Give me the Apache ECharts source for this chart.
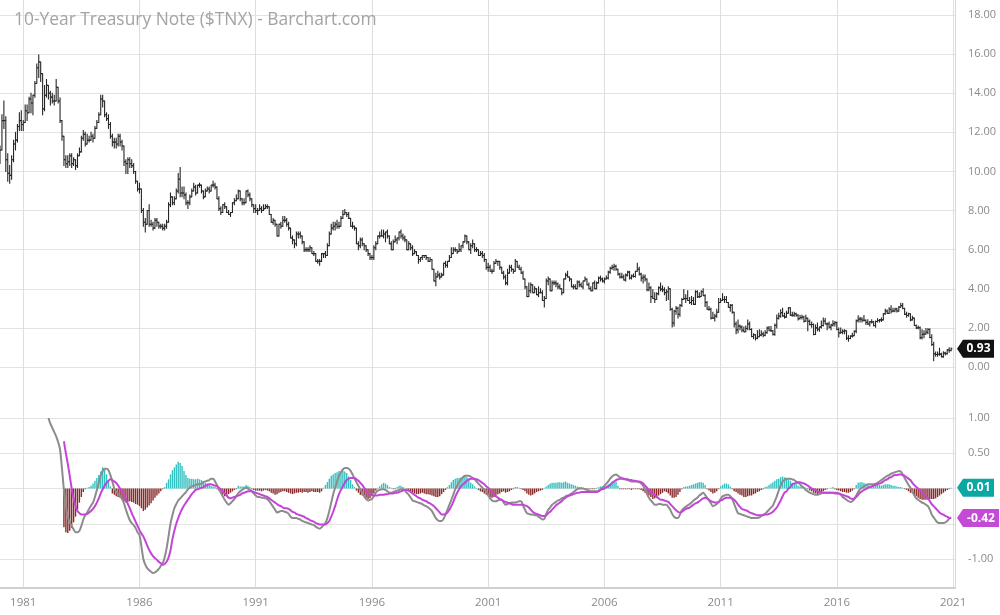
<!DOCTYPE html>
<html><head><meta charset="utf-8">
<script src="https://cdn.jsdelivr.net/npm/echarts@6/dist/echarts.min.js"></script>
<style>html,body{margin:0;padding:0;background:#fff}#c{width:1000px;height:615px}</style>
</head><body><div id="c"></div>
<script>
const chartTitle = '10-Year Treasury Note ($TNX) - Barchart.com';
const firstYear = 1980;
const yearTicks = ['1981','1986','1991','1996','2001','2006','2011','2016','2021'];
const priceOpen0 = 10.8;

// monthly lows, Jan 1980 .. Dec 2020
const priceLow = [
10.4,11.1,12.2,10.0,9.5,9.4,9.6,10.5,11.1,11.5,12.1,12.1,
12.1,12.5,12.6,13.0,13.0,12.9,13.8,14.5,14.8,14.6,12.9,13.1,
13.8,13.7,13.4,13.5,13.4,13.6,13.5,12.5,11.6,10.3,10.2,10.2,
10.3,10.2,10.3,10.1,10.2,10.8,11.0,11.6,11.3,11.4,11.5,11.6,
11.5,11.7,12.2,12.5,12.9,13.3,12.8,12.6,12.2,11.7,11.3,11.2,
11.2,11.3,11.3,11.1,10.3,9.9,9.9,10.2,10.2,9.9,9.4,9.0,
8.9,7.9,7.2,6.9,7.3,7.2,7.2,7.0,7.1,7.2,7.1,7.1,
7.0,7.0,7.1,7.4,8.2,8.3,8.3,8.6,8.9,8.7,8.7,8.6,
8.3,8.1,8.3,8.7,9.0,8.8,8.9,9.2,8.9,8.6,8.7,9.0,
8.9,9.0,9.2,9.1,8.6,8.0,7.8,7.9,8.1,7.9,7.8,7.7,
7.9,8.3,8.5,8.6,8.5,8.3,8.3,8.4,8.7,8.5,8.2,7.9,
7.9,7.8,8.0,7.9,8.0,8.1,8.1,7.8,7.4,7.3,7.2,6.7,
6.7,7.1,7.2,7.4,7.2,7.0,6.6,6.3,6.1,6.2,6.6,6.6,
6.3,5.9,5.9,5.9,5.9,5.8,5.7,5.4,5.3,5.2,5.4,5.6,
5.6,5.7,6.2,6.8,7.0,7.0,7.1,7.1,7.2,7.6,7.8,7.7,
7.6,7.2,7.1,7.0,6.3,6.0,6.1,6.2,6.0,5.9,5.7,5.5,
5.5,5.5,6.0,6.3,6.6,6.7,6.6,6.4,6.6,6.3,6.0,6.0,
6.4,6.3,6.5,6.6,6.5,6.4,6.0,6.0,6.0,5.7,5.8,5.7,
5.3,5.4,5.5,5.6,5.5,5.4,5.4,5.0,4.4,4.15,4.6,4.5,
4.6,4.7,5.1,5.1,5.4,5.6,5.8,5.9,5.8,5.9,5.9,6.1,
6.4,6.3,6.0,5.8,6.1,5.9,5.9,5.7,5.7,5.6,5.4,5.0,
4.9,4.9,4.8,4.9,5.3,5.2,5.0,4.8,4.5,4.2,4.2,4.8,
4.9,4.8,4.9,5.1,5.0,4.8,4.5,4.0,3.6,3.6,3.8,3.8,
3.8,3.7,3.6,3.8,3.4,3.07,3.5,4.2,3.9,3.9,4.2,4.1,
4.0,4.0,3.7,3.8,4.5,4.6,4.4,4.1,4.0,4.0,4.0,4.1,
4.1,4.0,4.4,4.2,4.0,3.9,3.9,4.0,4.0,4.3,4.4,4.35,
4.3,4.5,4.5,4.8,5.0,4.95,4.95,4.7,4.55,4.55,4.45,4.4,
4.65,4.5,4.5,4.6,4.6,4.9,4.7,4.4,4.3,4.4,3.9,3.9,
3.3,3.5,3.3,3.45,3.7,3.9,3.85,3.7,3.4,3.45,2.9,2.05,
2.1,2.7,2.5,2.6,3.1,3.45,3.3,3.4,3.25,3.2,3.2,3.2,
3.55,3.55,3.6,3.65,3.1,2.95,2.9,2.45,2.5,2.35,2.55,2.8,
3.3,3.4,3.3,3.3,3.05,2.85,2.75,2.05,1.7,1.75,1.9,1.8,
1.8,1.8,1.9,1.9,1.55,1.45,1.38,1.45,1.55,1.6,1.55,1.6,
1.72,1.85,1.82,1.63,1.62,2.0,2.45,2.55,2.6,2.5,2.55,2.75,
2.63,2.6,2.6,2.6,2.4,2.45,2.45,2.3,2.33,1.86,2.15,2.03,
1.65,1.66,1.85,1.83,2.0,2.1,2.2,1.9,2.0,1.9,2.1,2.1,
1.9,1.53,1.72,1.7,1.7,1.4,1.32,1.45,1.53,1.6,1.75,2.3,
2.3,2.3,2.35,2.17,2.17,2.1,2.25,2.1,2.03,2.3,2.3,2.33,
2.4,2.7,2.74,2.73,2.76,2.82,2.82,2.81,2.85,3.05,2.98,2.68,
2.55,2.6,2.37,2.4,2.12,1.97,1.95,1.45,1.43,1.5,1.68,1.7,
1.5,1.1,0.32,0.55,0.55,0.6,0.51,0.5,0.62,0.66,0.76,0.83
];
// monthly highs
const priceHigh = [
11.3,12.9,13.6,12.8,10.9,10.3,10.8,11.6,12.0,12.4,13.0,13.1,
12.6,13.4,13.4,13.8,14.0,13.9,14.6,15.5,15.95,15.6,15.0,14.4,
14.7,14.4,14.1,14.0,13.9,14.7,14.3,13.75,12.6,11.8,10.8,10.8,
10.9,10.9,10.7,10.6,10.9,11.2,11.8,12.1,12.0,11.9,11.8,12.0,
11.9,12.3,12.6,13.0,13.9,13.9,13.6,13.0,12.9,12.5,11.9,11.7,
11.7,11.9,11.9,11.6,11.3,10.6,10.7,10.7,10.6,10.4,10.0,9.5,
9.4,9.1,8.1,7.6,8.0,8.3,7.5,7.4,7.6,7.6,7.4,7.3,
7.3,7.3,7.5,8.4,8.9,8.7,8.7,9.1,9.9,10.2,9.2,9.2,
8.9,8.5,8.8,9.1,9.4,9.3,9.3,9.4,9.3,9.0,9.1,9.2,
9.2,9.3,9.5,9.4,9.2,8.7,8.2,8.3,8.4,8.2,8.0,7.9,
8.4,8.6,8.8,9.05,9.0,8.6,8.6,9.0,9.05,8.9,8.6,8.3,
8.3,8.1,8.3,8.2,8.3,8.3,8.3,8.2,7.8,7.6,7.5,7.3,
7.3,7.4,7.7,7.7,7.6,7.4,7.1,6.7,6.5,6.9,6.9,6.9,
6.7,6.4,6.1,6.1,6.2,6.1,5.9,5.8,5.5,5.5,5.8,5.8,
5.9,6.3,6.9,7.3,7.4,7.4,7.5,7.4,7.7,8.0,8.05,7.9,
7.9,7.6,7.4,7.2,7.1,6.4,6.6,6.6,6.3,6.2,6.0,5.8,
5.7,6.2,6.4,6.7,6.9,7.0,7.0,6.9,7.0,6.7,6.4,6.5,
6.7,6.6,6.9,7.0,6.8,6.7,6.5,6.4,6.3,6.2,6.0,5.9,
5.7,5.6,5.7,5.7,5.7,5.6,5.6,5.5,5.0,4.8,4.9,4.8,
4.8,5.3,5.4,5.4,5.7,6.1,6.1,6.1,6.0,6.3,6.2,6.4,
6.75,6.7,6.4,6.3,6.5,6.3,6.1,6.0,5.9,5.9,5.8,5.5,
5.3,5.2,5.0,5.4,5.5,5.4,5.4,5.1,4.9,4.7,5.0,5.2,
5.2,5.0,5.5,5.4,5.2,5.1,4.9,4.5,4.1,4.3,4.3,4.2,
4.1,4.0,4.1,4.0,3.9,3.6,4.5,4.6,4.5,4.4,4.4,4.4,
4.3,4.2,4.0,4.5,4.8,4.9,4.6,4.5,4.2,4.2,4.4,4.4,
4.3,4.4,4.6,4.5,4.3,4.1,4.3,4.4,4.35,4.6,4.65,4.55,
4.55,4.65,4.9,5.1,5.2,5.25,5.2,5.0,4.8,4.8,4.7,4.75,
4.9,4.9,4.7,4.75,4.9,5.3,5.1,4.8,4.7,4.7,4.5,4.3,
4.1,3.95,3.8,3.8,4.1,4.3,4.15,4.05,3.95,4.1,4.0,3.0,
2.9,3.1,3.05,3.2,3.5,3.95,3.7,3.9,3.55,3.6,3.55,3.9,
3.9,3.8,3.9,4.0,3.7,3.35,3.1,3.0,2.8,2.7,2.95,3.5,
3.5,3.75,3.6,3.6,3.3,3.2,3.2,2.8,2.3,2.4,2.15,2.1,
2.05,2.1,2.4,2.3,1.95,1.7,1.65,1.85,1.9,1.85,1.78,1.85,
2.05,2.07,2.07,1.87,2.2,2.66,2.75,2.93,3.0,2.75,2.85,3.03,
3.03,2.8,2.8,2.75,2.67,2.65,2.65,2.6,2.65,2.5,2.4,2.3,
2.2,2.15,2.25,2.05,2.35,2.5,2.48,2.25,2.3,2.18,2.37,2.33,
2.3,2.0,2.0,1.9,1.9,1.85,1.6,1.6,1.73,1.85,2.4,2.62,
2.55,2.52,2.63,2.4,2.42,2.33,2.42,2.33,2.35,2.47,2.43,2.5,
2.73,2.95,2.91,3.03,3.13,3.0,3.0,3.0,3.1,3.26,3.25,3.0,
2.8,2.75,2.72,2.6,2.5,2.15,2.1,2.05,1.9,1.85,1.97,1.95,
1.95,1.65,1.27,0.77,0.77,0.96,0.7,0.78,0.75,0.89,0.98,0.97
];
// monthly closes
const priceClose = [
11.1,12.6,12.6,10.6,9.9,9.8,10.6,11.4,11.6,12.3,12.6,12.4,
12.5,13.1,13.0,13.7,13.5,13.9,14.5,15.3,15.6,15.0,13.2,13.9,
14.4,14.0,13.8,13.6,13.6,14.3,13.6,12.6,11.8,10.6,10.4,10.5,
10.8,10.4,10.6,10.3,10.8,11.0,11.7,11.9,11.4,11.6,11.6,11.8,
11.7,12.2,12.5,12.9,13.7,13.6,12.9,12.7,12.4,11.8,11.5,11.5,
11.4,11.8,11.5,11.3,10.5,10.4,10.6,10.4,10.3,10.0,9.5,9.1,
9.1,8.0,7.4,7.3,8.0,7.3,7.3,7.1,7.5,7.4,7.2,7.2,
7.1,7.2,7.4,8.3,8.7,8.4,8.6,9.0,9.6,8.9,8.9,8.8,
8.4,8.4,8.7,9.0,9.2,8.9,9.3,9.3,9.0,8.7,9.0,9.1,
9.0,9.3,9.3,9.2,8.6,8.1,7.9,8.3,8.2,7.9,7.8,7.9,
8.4,8.5,8.6,9.0,8.6,8.4,8.4,9.0,8.8,8.6,8.3,8.1,
8.0,8.0,8.1,8.0,8.1,8.2,8.2,7.8,7.4,7.5,7.3,6.7,
7.3,7.2,7.5,7.5,7.3,7.1,6.6,6.5,6.3,6.8,6.8,6.7,
6.4,6.0,6.0,6.0,6.1,5.8,5.8,5.4,5.4,5.4,5.8,5.8,
5.7,6.2,6.8,7.1,7.2,7.3,7.2,7.2,7.6,7.8,7.9,7.8,
7.6,7.2,7.2,7.1,6.3,6.2,6.5,6.3,6.2,6.0,5.8,5.6,
5.6,6.1,6.3,6.7,6.7,6.7,6.8,6.9,6.7,6.3,6.0,6.4,
6.5,6.6,6.9,6.7,6.6,6.5,6.0,6.3,6.1,5.8,5.9,5.7,
5.5,5.6,5.7,5.7,5.6,5.4,5.5,5.0,4.4,4.6,4.7,4.6,
4.7,5.3,5.2,5.4,5.6,5.8,6.0,6.0,5.9,6.0,6.2,6.4,
6.7,6.4,6.0,6.2,6.3,6.0,6.0,5.7,5.8,5.7,5.5,5.1,
5.1,4.9,4.9,5.3,5.4,5.4,5.1,4.8,4.6,4.3,4.8,5.1,
5.0,4.9,5.4,5.1,5.0,4.8,4.5,4.1,3.6,3.9,4.2,3.8,
4.0,3.7,3.8,3.8,3.4,3.5,4.4,4.5,3.9,4.3,4.3,4.25,
4.1,4.0,3.8,4.5,4.7,4.6,4.5,4.1,4.1,4.0,4.35,4.2,
4.1,4.4,4.5,4.2,4.0,3.9,4.3,4.0,4.3,4.55,4.5,4.4,
4.5,4.55,4.85,5.05,5.1,5.15,5.0,4.75,4.6,4.6,4.45,4.7,
4.85,4.55,4.65,4.63,4.9,5.0,4.75,4.55,4.6,4.5,3.95,4.05,
3.6,3.5,3.45,3.75,4.05,3.98,3.95,3.8,3.85,4.0,2.95,2.25,
2.85,3.0,2.7,3.15,3.45,3.5,3.5,3.4,3.3,3.4,3.2,3.85,
3.6,3.6,3.85,3.65,3.3,2.95,2.95,2.5,2.5,2.6,2.8,3.3,
3.4,3.45,3.45,3.3,3.05,3.15,2.8,2.2,1.9,2.1,2.05,1.88,
1.8,1.97,2.2,1.92,1.56,1.65,1.47,1.55,1.63,1.69,1.62,1.76,
1.99,1.88,1.85,1.67,2.13,2.49,2.6,2.78,2.61,2.55,2.75,3.03,
2.65,2.65,2.72,2.65,2.47,2.53,2.56,2.34,2.49,2.34,2.17,2.17,
1.66,2.0,1.93,2.04,2.12,2.35,2.2,2.2,2.04,2.14,2.21,2.27,
1.92,1.74,1.77,1.83,1.85,1.47,1.46,1.58,1.6,1.83,2.37,2.45,
2.45,2.39,2.39,2.28,2.2,2.31,2.3,2.12,2.33,2.38,2.41,2.41,
2.72,2.86,2.74,2.95,2.86,2.86,2.96,2.86,3.06,3.14,2.99,2.69,
2.63,2.72,2.41,2.5,2.12,2.0,2.01,1.5,1.67,1.69,1.78,1.92,
1.51,1.15,0.67,0.64,0.65,0.66,0.53,0.71,0.68,0.88,0.84,0.93
];
// MACD line (grey)
const macdLine = [
null,null,null,null,null,null,null,null,null,null,null,null,
null,null,null,null,null,null,null,null,null,null,null,null,
null,1.00,0.92,0.86,0.80,0.74,0.66,0.55,0.28,-0.02,-0.25,-0.40,
-0.48,-0.53,-0.58,-0.62,-0.62,-0.60,-0.53,-0.44,-0.38,-0.34,-0.29,-0.24,
-0.20,-0.12,-0.02,0.08,0.19,0.25,0.28,0.28,0.26,0.19,0.10,0.00,
-0.05,-0.08,-0.11,-0.15,-0.21,-0.30,-0.38,-0.45,-0.49,-0.52,-0.56,-0.62,
-0.66,-0.82,-1.00,-1.08,-1.13,-1.16,-1.18,-1.20,-1.19,-1.17,-1.14,-1.10,
-1.06,-0.98,-0.85,-0.68,-0.50,-0.38,-0.28,-0.22,-0.17,-0.14,-0.11,-0.08,
-0.05,-0.01,0.01,0.03,0.04,0.05,0.06,0.06,0.07,0.09,0.10,0.11,
0.12,0.14,0.14,0.10,0.05,-0.01,-0.06,-0.11,-0.16,-0.20,-0.23,-0.21,
-0.18,-0.15,-0.11,-0.07,-0.04,-0.02,0.00,0.01,0.00,-0.02,-0.04,-0.07,
-0.10,-0.12,-0.12,-0.13,-0.13,-0.14,-0.15,-0.18,-0.22,-0.26,-0.30,-0.34,
-0.33,-0.32,-0.32,-0.33,-0.34,-0.36,-0.40,-0.42,-0.42,-0.42,-0.43,-0.44,
-0.46,-0.47,-0.48,-0.49,-0.50,-0.51,-0.52,-0.54,-0.56,-0.57,-0.55,-0.52,
-0.49,-0.42,-0.32,-0.20,-0.08,0.01,0.10,0.18,0.23,0.27,0.29,0.29,
0.28,0.25,0.20,0.14,0.09,0.04,-0.01,-0.06,-0.11,-0.15,-0.17,-0.16,
-0.15,-0.11,-0.06,-0.03,-0.02,-0.01,-0.01,-0.02,-0.04,-0.06,-0.06,-0.05,
-0.04,-0.03,-0.02,-0.01,-0.01,-0.03,-0.06,-0.09,-0.13,-0.17,-0.18,-0.19,
-0.20,-0.21,-0.22,-0.24,-0.25,-0.27,-0.29,-0.32,-0.37,-0.42,-0.45,-0.46,
-0.46,-0.43,-0.37,-0.30,-0.23,-0.16,-0.09,-0.01,0.04,0.09,0.13,0.16,
0.18,0.18,0.18,0.17,0.15,0.13,0.10,0.07,0.04,0.01,-0.02,-0.04,
-0.09,-0.14,-0.17,-0.18,-0.18,-0.17,-0.16,-0.16,-0.20,-0.23,-0.22,-0.21,
-0.20,-0.20,-0.20,-0.19,-0.18,-0.18,-0.24,-0.30,-0.35,-0.36,-0.37,-0.37,
-0.38,-0.38,-0.40,-0.42,-0.44,-0.43,-0.36,-0.30,-0.27,-0.23,-0.21,-0.19,
-0.17,-0.16,-0.14,-0.13,-0.11,-0.10,-0.09,-0.07,-0.05,-0.03,-0.01,0.00,
0.00,0.00,-0.01,-0.02,-0.03,-0.04,-0.04,-0.04,-0.04,-0.03,-0.01,0.01,
0.04,0.07,0.10,0.14,0.17,0.19,0.20,0.18,0.16,0.15,0.14,0.13,
0.12,0.11,0.10,0.10,0.10,0.10,0.09,0.07,0.04,-0.02,-0.08,-0.13,
-0.17,-0.20,-0.23,-0.23,-0.22,-0.22,-0.23,-0.23,-0.23,-0.26,-0.30,-0.36,
-0.40,-0.42,-0.42,-0.37,-0.31,-0.28,-0.26,-0.24,-0.22,-0.20,-0.17,-0.15,
-0.13,-0.10,-0.08,-0.06,-0.09,-0.13,-0.17,-0.21,-0.25,-0.24,-0.22,-0.19,
-0.15,-0.11,-0.10,-0.09,-0.09,-0.11,-0.15,-0.22,-0.29,-0.35,-0.36,-0.37,
-0.38,-0.39,-0.40,-0.41,-0.42,-0.42,-0.42,-0.42,-0.41,-0.39,-0.37,-0.36,
-0.33,-0.30,-0.27,-0.24,-0.18,-0.11,-0.03,0.04,0.10,0.12,0.14,0.14,
0.14,0.13,0.12,0.10,0.08,0.06,0.03,0.01,-0.02,-0.04,-0.06,-0.07,
-0.08,-0.09,-0.09,-0.08,-0.07,-0.06,-0.06,-0.06,-0.06,-0.06,-0.06,-0.06,
-0.06,-0.07,-0.09,-0.12,-0.14,-0.16,-0.18,-0.19,-0.18,-0.15,-0.10,-0.05,
-0.01,0.01,0.03,0.05,0.06,0.06,0.06,0.06,0.07,0.08,0.10,0.12,
0.14,0.16,0.18,0.19,0.21,0.22,0.23,0.24,0.25,0.24,0.20,0.15,
0.10,0.05,0.01,-0.04,-0.10,-0.14,-0.16,-0.18,-0.20,-0.21,-0.23,-0.25,
-0.30,-0.37,-0.41,-0.45,-0.48,-0.49,-0.49,-0.49,-0.48,-0.46,-0.43,-0.41
];
// signal line (magenta)
const signalLine = [
null,null,null,null,null,null,null,null,null,null,null,null,
null,null,null,null,null,null,null,null,null,null,null,null,
null,null,null,null,null,null,null,null,null,0.67,0.50,0.35,
0.18,0.00,-0.14,-0.25,-0.32,-0.35,-0.37,-0.37,-0.37,-0.36,-0.34,-0.32,
-0.29,-0.25,-0.20,-0.14,-0.07,-0.01,0.04,0.08,0.11,0.13,0.12,0.10,
0.08,0.04,0.00,-0.04,-0.09,-0.15,-0.22,-0.28,-0.35,-0.41,-0.47,-0.53,
-0.59,-0.64,-0.68,-0.74,-0.81,-0.87,-0.92,-0.96,-0.99,-1.01,-1.04,-1.06,
-1.08,-1.07,-1.04,-0.98,-0.88,-0.72,-0.60,-0.50,-0.42,-0.35,-0.29,-0.24,
-0.20,-0.16,-0.12,-0.08,-0.05,-0.02,-0.01,0.00,0.01,0.02,0.04,0.05,
0.06,0.06,0.05,0.04,0.03,0.01,-0.01,-0.04,-0.07,-0.10,-0.13,-0.14,
-0.13,-0.12,-0.11,-0.10,-0.09,-0.07,-0.06,-0.05,-0.04,-0.04,-0.04,-0.05,
-0.06,-0.07,-0.08,-0.09,-0.10,-0.11,-0.12,-0.14,-0.16,-0.18,-0.20,-0.22,
-0.24,-0.25,-0.27,-0.28,-0.28,-0.29,-0.31,-0.33,-0.34,-0.36,-0.37,-0.38,
-0.39,-0.40,-0.42,-0.43,-0.45,-0.46,-0.47,-0.49,-0.50,-0.51,-0.51,-0.51,
-0.51,-0.49,-0.46,-0.40,-0.33,-0.25,-0.16,-0.08,-0.02,0.03,0.08,0.12,
0.14,0.15,0.15,0.15,0.13,0.11,0.08,0.05,0.01,-0.03,-0.06,-0.08,
-0.09,-0.10,-0.10,-0.10,-0.09,-0.09,-0.09,-0.08,-0.08,-0.07,-0.07,-0.07,
-0.06,-0.06,-0.05,-0.04,-0.03,-0.02,-0.02,-0.03,-0.05,-0.07,-0.09,-0.11,
-0.13,-0.14,-0.16,-0.17,-0.18,-0.20,-0.21,-0.23,-0.25,-0.28,-0.31,-0.34,
-0.37,-0.37,-0.36,-0.34,-0.30,-0.25,-0.19,-0.12,-0.06,-0.01,0.03,0.06,
0.08,0.11,0.13,0.14,0.14,0.14,0.13,0.12,0.10,0.08,0.06,0.03,
0.01,-0.02,-0.05,-0.08,-0.11,-0.13,-0.15,-0.16,-0.18,-0.19,-0.20,-0.21,
-0.22,-0.23,-0.23,-0.23,-0.23,-0.23,-0.23,-0.24,-0.25,-0.27,-0.30,-0.33,
-0.35,-0.36,-0.37,-0.38,-0.39,-0.39,-0.38,-0.35,-0.33,-0.30,-0.27,-0.24,
-0.22,-0.20,-0.18,-0.15,-0.13,-0.11,-0.10,-0.09,-0.08,-0.07,-0.06,-0.06,
-0.05,-0.05,-0.05,-0.05,-0.05,-0.05,-0.05,-0.05,-0.05,-0.04,-0.02,-0.01,
0.00,0.02,0.03,0.05,0.08,0.10,0.12,0.13,0.14,0.14,0.13,0.13,
0.13,0.12,0.12,0.11,0.11,0.10,0.10,0.09,0.07,0.04,0.01,-0.02,
-0.05,-0.08,-0.09,-0.12,-0.14,-0.16,-0.16,-0.17,-0.18,-0.19,-0.22,-0.25,
-0.28,-0.31,-0.33,-0.34,-0.33,-0.31,-0.29,-0.28,-0.27,-0.25,-0.23,-0.21,
-0.20,-0.18,-0.16,-0.14,-0.13,-0.14,-0.16,-0.18,-0.19,-0.20,-0.20,-0.19,
-0.17,-0.16,-0.14,-0.13,-0.13,-0.13,-0.14,-0.16,-0.19,-0.23,-0.26,-0.29,
-0.30,-0.31,-0.32,-0.34,-0.35,-0.36,-0.37,-0.38,-0.38,-0.38,-0.38,-0.37,
-0.37,-0.36,-0.35,-0.33,-0.30,-0.27,-0.22,-0.17,-0.11,-0.06,-0.04,0.00,
0.02,0.06,0.07,0.08,0.09,0.09,0.08,0.07,0.06,0.04,0.02,0.00,
-0.01,-0.02,-0.04,-0.05,-0.05,-0.06,-0.06,-0.06,-0.06,-0.06,-0.06,-0.07,
-0.07,-0.07,-0.08,-0.09,-0.10,-0.11,-0.12,-0.14,-0.15,-0.14,-0.12,-0.09,
-0.06,-0.04,-0.02,-0.01,0.01,0.02,0.03,0.04,0.05,0.06,0.07,0.08,
0.10,0.12,0.13,0.15,0.16,0.18,0.19,0.19,0.20,0.20,0.19,0.18,
0.16,0.14,0.12,0.08,0.05,0.02,0.00,-0.03,-0.05,-0.08,-0.11,-0.14,
-0.18,-0.22,-0.25,-0.28,-0.31,-0.34,-0.36,-0.37,-0.39,-0.40,-0.42,-0.42
];
// histogram
const histogram = [
null,null,null,null,null,null,null,null,null,null,null,null,
null,null,null,null,null,null,null,null,null,null,null,null,
null,null,null,null,null,null,null,null,null,-0.55,-0.62,-0.63,
-0.60,-0.56,-0.48,-0.40,-0.30,-0.20,-0.12,-0.05,-0.01,0.01,0.02,0.04,
0.07,0.11,0.15,0.19,0.24,0.30,0.27,0.20,0.10,0.03,-0.07,-0.09,
-0.11,-0.12,-0.13,-0.16,-0.18,-0.20,-0.19,-0.18,-0.19,-0.20,-0.22,-0.23,
-0.25,-0.28,-0.32,-0.30,-0.27,-0.24,-0.21,-0.17,-0.13,-0.10,-0.07,-0.04,
-0.01,0.02,0.08,0.13,0.20,0.26,0.30,0.34,0.38,0.36,0.32,0.25,
0.19,0.15,0.14,0.14,0.13,0.13,0.14,0.13,0.12,0.10,0.08,0.07,
0.05,0.04,0.03,0.02,-0.01,-0.03,-0.07,-0.09,-0.11,-0.10,-0.08,-0.06,
-0.04,-0.02,-0.01,0.04,0.03,0.03,0.03,0.05,0.04,0.02,-0.01,-0.02,
-0.03,-0.03,-0.03,-0.04,-0.03,-0.02,-0.03,-0.04,-0.06,-0.07,-0.09,-0.08,
-0.06,-0.05,-0.04,-0.04,-0.05,-0.06,-0.07,-0.08,-0.07,-0.06,-0.06,-0.05,
-0.06,-0.05,-0.05,-0.06,-0.05,-0.04,-0.05,-0.05,-0.05,-0.06,-0.04,0.01,
0.05,0.09,0.14,0.18,0.20,0.22,0.23,0.25,0.25,0.25,0.24,0.22,
0.17,0.12,0.06,0.02,-0.03,-0.06,-0.09,-0.10,-0.11,-0.13,-0.15,-0.14,
-0.11,-0.07,-0.03,0.01,0.03,0.06,0.08,0.07,0.05,0.02,0.01,-0.01,
-0.01,0.02,0.04,0.04,0.02,0.01,-0.02,-0.04,-0.05,-0.06,-0.07,-0.08,
-0.08,-0.07,-0.06,-0.07,-0.08,-0.08,-0.09,-0.10,-0.11,-0.12,-0.12,-0.11,
-0.08,-0.05,-0.02,0.02,0.05,0.09,0.12,0.14,0.15,0.15,0.16,0.17,
0.18,0.16,0.12,0.08,0.06,0.03,0.01,-0.02,-0.04,-0.05,-0.07,-0.09,
-0.11,-0.12,-0.13,-0.12,-0.10,-0.08,-0.07,-0.05,-0.04,-0.06,-0.05,-0.04,
-0.02,-0.01,0.02,0.02,0.01,-0.01,-0.02,-0.04,-0.07,-0.09,-0.10,-0.09,
-0.07,-0.05,-0.04,-0.03,-0.02,0.01,0.03,0.05,0.07,0.08,0.08,0.08,
0.09,0.09,0.08,0.09,0.10,0.08,0.07,0.06,0.05,0.04,0.03,0.02,
0.02,0.01,-0.01,-0.01,-0.01,-0.01,-0.01,-0.01,0.01,0.02,0.03,0.03,
0.03,0.04,0.06,0.07,0.08,0.09,0.10,0.04,-0.01,-0.01,-0.01,-0.01,
-0.01,-0.01,-0.02,-0.01,-0.01,-0.01,-0.01,-0.02,-0.04,-0.06,-0.08,-0.10,
-0.12,-0.15,-0.14,-0.13,-0.10,-0.08,-0.06,-0.04,-0.05,-0.07,-0.10,-0.13,
-0.13,-0.12,-0.09,-0.05,-0.01,0.02,0.03,0.03,0.04,0.05,0.06,0.07,
0.08,0.09,0.09,0.08,0.05,-0.01,-0.03,-0.05,-0.07,-0.06,-0.04,-0.01,
0.03,0.05,0.07,0.07,0.06,0.03,-0.01,-0.04,-0.05,-0.07,-0.09,-0.10,
-0.12,-0.12,-0.11,-0.10,-0.10,-0.08,-0.07,-0.05,-0.04,-0.02,-0.01,0.02,
0.03,0.05,0.07,0.09,0.11,0.13,0.14,0.16,0.17,0.16,0.15,0.13,
0.11,0.08,0.07,0.06,0.04,0.03,0.02,0.02,0.01,-0.01,-0.03,-0.04,
-0.06,-0.07,-0.09,-0.08,-0.06,-0.04,-0.02,-0.01,0.00,0.01,0.02,-0.01,
-0.02,-0.03,-0.04,-0.05,-0.05,-0.06,-0.06,-0.05,-0.03,-0.01,0.05,0.08,
0.09,0.09,0.08,0.06,0.05,0.04,0.04,0.04,0.04,0.05,0.05,0.04,
0.05,0.06,0.06,0.06,0.05,0.04,0.04,0.03,0.02,0.02,0.01,-0.01,
-0.02,-0.04,-0.06,-0.07,-0.09,-0.11,-0.13,-0.15,-0.16,-0.16,-0.16,-0.16,
-0.15,-0.15,-0.15,-0.14,-0.12,-0.10,-0.08,-0.06,-0.04,-0.02,-0.01,0.01
];

// ---- build ----
const nCats = priceClose.length + 2; // axis runs to Feb 2021
const categories = [];
for (let i = 0; i < nCats; i++) {
  const y = firstYear + Math.floor(i / 12), mo = i % 12 + 1;
  categories.push(y + '-' + String(mo).padStart(2, '0'));
}
const isYearTick = (i) => {
  const c = categories[i];
  return !!c && c.endsWith('-01') && yearTicks.indexOf(c.slice(0, 4)) >= 0;
};
const ohlc = priceClose.map((c, i) => [i, i ? priceClose[i - 1] : priceOpen0, c, priceLow[i], priceHigh[i]]);
const lastIdx = priceClose.length - 1;

const FONT = '"Open Sans", "Noto Sans", sans-serif';
const LABEL = { color: '#8a8a8a', fontSize: 11, fontFamily: FONT };
const GRID_LINE = { lineStyle: { color: '#e3e3e3', width: 1 } };
const L = 0, R = 45;

function badge(gridX, gridY, color, width) {
  return {
    type: 'custom', xAxisIndex: gridX, yAxisIndex: gridY, clip: false, z: 20, silent: true,
    renderItem: (params, api) => {
      const y = api.coord([api.value(0), api.value(1)])[1];
      const x0 = params.coordSys.x + params.coordSys.width + 2;
      const h = 18, a = 6;
      const txt = Number(api.value(1)).toFixed(2);
      return {
        type: 'group', children: [
          { type: 'polygon', shape: { points: [[x0, y], [x0 + a, y - h / 2], [x0 + a + width, y - h / 2], [x0 + a + width, y + h / 2], [x0 + a, y + h / 2]] }, style: { fill: color } },
          { type: 'text', style: { text: txt, x: x0 + a + width / 2, y: y, textAlign: 'center', textVerticalAlign: 'middle', align: 'center', verticalAlign: 'middle', fill: '#fff', font: 'bold 12px ' + FONT } }
        ]
      };
    }
  };
}

const hiddenX = (g) => ({ type: 'category', gridIndex: g, data: categories, boundaryGap: false, show: false });

const option = {
  animation: false,
  backgroundColor: '#ffffff',
  textStyle: { fontFamily: FONT },
  title: { text: chartTitle, left: 14, top: 12, padding: 0, textStyle: { color: '#a3a3a3', fontSize: 17.4, fontWeight: 'normal', fontFamily: FONT } },
  grid: [
    { left: L, right: R, top: 0, height: 588, outerBoundsMode: 'none' },
    { left: L, right: R, top: 15, height: 352, outerBoundsMode: 'none' },
    { left: L, right: R, top: 392, height: 196, outerBoundsMode: 'none' },
    { left: L, right: R, top: 418, height: 141, outerBoundsMode: 'none' }
  ],
  xAxis: [
    { type: 'category', gridIndex: 0, data: categories, boundaryGap: false, position: 'bottom',
      axisLine: { show: true, lineStyle: { color: '#d4d4d4', width: 1 } },
      axisTick: { show: false },
      axisLabel: Object.assign({ interval: (i) => isYearTick(i), formatter: (v) => v.slice(0, 4), margin: 9 }, LABEL, { fontSize: 11.5 }),
      splitLine: { show: true, interval: (i) => isYearTick(i), lineStyle: { color: '#dedede', width: 1 } } },
    hiddenX(1),
    { type: 'category', gridIndex: 2, data: categories, boundaryGap: false, position: 'top',
      axisLine: { show: true, lineStyle: { color: '#d0d0d0', width: 2 } },
      axisTick: { show: false }, axisLabel: { show: false }, splitLine: { show: false } },
    hiddenX(3)
  ],
  yAxis: [
    { type: 'value', gridIndex: 0, position: 'right', min: 0, max: 1,
      axisLine: { show: true, lineStyle: { color: '#d8d8d8' } }, axisTick: { show: false }, axisLabel: { show: false }, splitLine: { show: false } },
    { type: 'value', gridIndex: 1, position: 'right', min: 0, max: 18, interval: 2,
      axisLine: { show: false }, axisTick: { show: false },
      axisLabel: Object.assign({ margin: 13, formatter: (v) => v.toFixed(2) }, LABEL),
      splitLine: GRID_LINE },
    { type: 'value', gridIndex: 2, show: false, min: 0, max: 1 },
    { type: 'value', gridIndex: 3, position: 'right', min: -1, max: 1, interval: 0.5,
      axisLine: { show: false }, axisTick: { show: false },
      axisLabel: Object.assign({ margin: 13, formatter: (v) => v.toFixed(2) }, LABEL),
      splitLine: GRID_LINE }
  ],
  series: [
    { type: 'custom', name: 'TNX', xAxisIndex: 1, yAxisIndex: 1, data: ohlc, encode: { x: 0, y: [1, 2, 3, 4] }, clip: false,
      renderItem: (params, api) => {
        const i = api.value(0);
        const pO = api.coord([i, api.value(1)]), pC = api.coord([i, api.value(2)]);
        const pL = api.coord([i, api.value(3)]), pH = api.coord([i, api.value(4)]);
        const x = pL[0];
        const st = { stroke: '#262626', lineWidth: 1.1 };
        return { type: 'group', children: [
          { type: 'line', shape: { x1: x, y1: pL[1] + 0.5, x2: x, y2: pH[1] - 0.5 }, style: st },
          { type: 'line', shape: { x1: x - 1.3, y1: pO[1], x2: x, y2: pO[1] }, style: st },
          { type: 'line', shape: { x1: x, y1: pC[1], x2: x + 1.3, y2: pC[1] }, style: st }
        ] };
      } },
    { type: 'bar', name: 'Histogram', xAxisIndex: 3, yAxisIndex: 3, data: histogram, barWidth: 1.4,
      itemStyle: { color: (p) => (p.value >= 0 ? '#33c0c0' : '#8a2a2a') } },
    { type: 'line', name: 'MACD', xAxisIndex: 3, yAxisIndex: 3, data: macdLine, showSymbol: false, clip: false, smooth: 0.3,
      lineStyle: { color: '#8c8c8c', width: 2 }, connectNulls: false },
    { type: 'line', name: 'Signal', xAxisIndex: 3, yAxisIndex: 3, data: signalLine, showSymbol: false, clip: false, smooth: 0.3,
      lineStyle: { color: '#c444d8', width: 2 } },
    Object.assign(badge(1, 1, '#111111', 31), { data: [[lastIdx, priceClose[lastIdx]]] }),
    Object.assign(badge(3, 3, '#0aa7a3', 31), { data: [[lastIdx, histogram[lastIdx]]] }),
    Object.assign(badge(3, 3, '#c24ad6', 36), { data: [[lastIdx, signalLine[lastIdx]]] })
  ]
};

const chart = echarts.init(document.getElementById('c'), null, { renderer: 'canvas' });
chart.setOption(option);
</script></body></html>
